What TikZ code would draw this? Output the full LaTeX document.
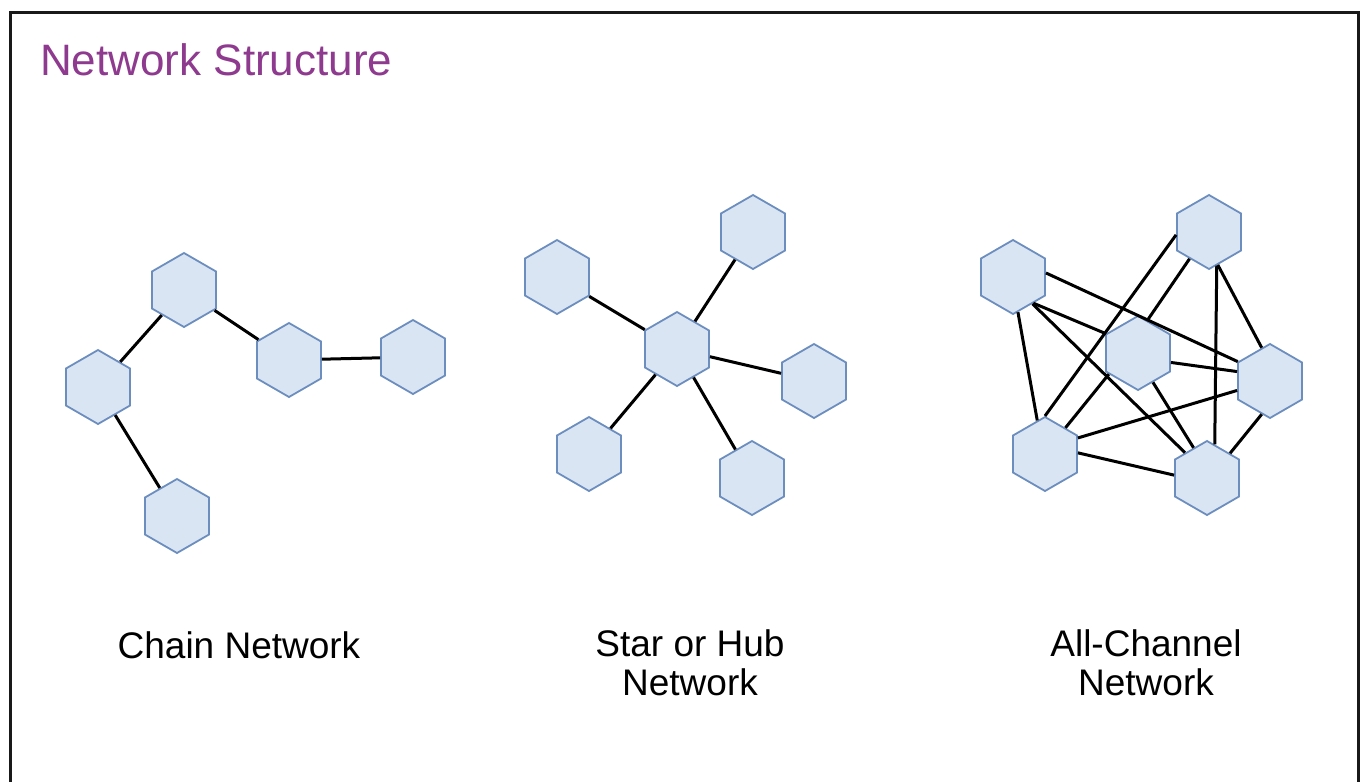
\documentclass[tikz,border=0pt]{standalone}
\usepackage{fontspec}
\setmainfont{Liberation Sans}
\usetikzlibrary{shapes.geometric}
\definecolor{hexfill}{HTML}{DAE5F3}
\definecolor{hexline}{HTML}{6C8EBF}
\definecolor{titlepurple}{HTML}{8E3A8E}

\tikzset{
  hex/.style={regular polygon,regular polygon sides=6,shape border rotate=30,
    minimum size=74pt,inner sep=0pt,fill=hexfill,draw=hexline,line width=1.8pt},
  link/.style={line width=3pt},
  caption/.style={font=\fontsize{37}{38.5}\selectfont,align=center,inner sep=0pt}
}

\begin{document}
\begin{tikzpicture}[x=1pt,y=-1pt]
\useasboundingbox (0,0) rectangle (1366,782);
\draw[line width=3pt,color=black!90] (10,800) -- (10,12) -- (1358,12) -- (1358,800);
\node[font=\fontsize{44}{48}\selectfont,text=titlepurple,anchor=base west,inner sep=0pt] (title) at (40,75) {Network Structure};

\node[hex] (ch1) at (184,290) {};
\node[hex] (ch2) at (98,387) {};
\node[hex] (ch3) at (289,360) {};
\node[hex] (ch4) at (413,357) {};
\node[hex] (ch5) at (177,516) {};
\draw[link] (ch2) to (ch1);
\draw[link] (ch1) to (ch3);
\draw[link] (ch3) to (ch4);
\draw[link] (ch2) to (ch5);

\node[hex] (hub) at (677,349) {};
\node[hex] (st1) at (557,277) {};
\node[hex] (st2) at (753,232) {};
\node[hex] (st3) at (814,381) {};
\node[hex] (st4) at (752,478) {};
\node[hex] (st5) at (589,454) {};
\foreach \s in {st1,st2,st3,st4,st5}
  \draw[link] (hub) to (\s);

\node[hex] (ac1) at (1013,277) {};
\node[hex] (ac2) at (1209,232) {};
\node[hex] (ac3) at (1138,353) {};
\node[hex] (ac4) at (1270,381) {};
\node[hex] (ac5) at (1045,454) {};
\node[hex] (ac6) at (1207,478) {};
\draw[link] (ac1.7) to (ac4.149);
\draw[link] (ac1.-52) to (ac3.149);
\draw[link] (ac1.-54) to (ac6.131);
\draw[link] (ac1.-82) to (ac5.103);
\draw[link] (ac2.185) to (ac5.90);
\draw[link] (ac2.234) to (ac3.74);
\draw[link] (ac2.283) to (ac6.77);
\draw[link] (ac2.285) to (ac4.104);
\draw[link] (ac3.-16) to (ac4.164);
\draw[link] (ac3.-63) to (ac6.114);
\draw[link] (ac3.216) to (ac5.52);
\draw[link] (ac5.26) to (ac4.196);
\draw[link] (ac5.2) to (ac6.175);
\draw[link] (ac4.256) to (ac6.47);

\node[caption,anchor=base] (chaincap) at (239,658) {Chain Network};
\node[caption,anchor=base] (starcap) at (690,695) {Star or Hub\\Network};
\node[caption,anchor=base] (allcap) at (1146,695) {All-Channel\\Network};
\end{tikzpicture}
\end{document}
